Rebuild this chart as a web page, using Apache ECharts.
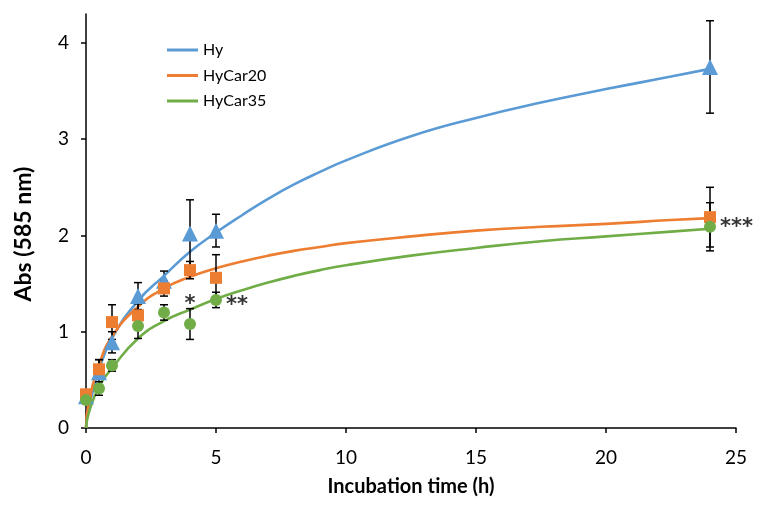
<!DOCTYPE html>
<html>
<head>
<meta charset="utf-8">
<script src="https://cdn.jsdelivr.net/npm/echarts@6/dist/echarts.min.js"></script>
<style>html,body{margin:0;padding:0;background:#fff}#c{width:764px;height:508px}</style>
</head>
<body>
<div id="c"></div>
<script>
// measured points
const timePts = [0, 0.5, 1, 2, 3, 4, 5, 24];
const hyMean = [0.33, 0.58, 0.89, 1.37, 1.53, 2.02, 2.05, 3.75];
const hyErr = [0.03, 0.13, 0.11, 0.14, 0.10, 0.35, 0.17, 0.48];
const car20Mean = [0.35, 0.61, 1.10, 1.17, 1.45, 1.64, 1.56, 2.19];
const car20Err = [0.03, 0.10, 0.18, 0.12, 0.08, 0.09, 0.24, 0.31];
const car35Mean = [0.29, 0.41, 0.65, 1.06, 1.20, 1.08, 1.33, 2.09];
const car35Err = [0.02, 0.07, 0.06, 0.13, 0.08, 0.16, 0.08, 0.25];

// fitted trend curves
const fitX = [0, 0.1, 0.5, 1, 2, 3, 4, 5, 6, 7, 8, 9, 10, 12.5, 15, 17.5, 20, 22.5, 24];
const hyFit = [0, 0.2, 0.6, 0.93, 1.32, 1.58, 1.83, 2.03, 2.21, 2.38, 2.53, 2.66, 2.78, 3.03, 3.22, 3.38, 3.52, 3.65, 3.73];
const car20Fit = [0, 0.25, 0.65, 0.95, 1.26, 1.45, 1.57, 1.66, 1.73, 1.79, 1.84, 1.88, 1.92, 1.99, 2.05, 2.09, 2.12, 2.16, 2.18];
const car35Fit = [0, 0.15, 0.43, 0.62, 0.93, 1.11, 1.23, 1.34, 1.43, 1.51, 1.58, 1.64, 1.69, 1.79, 1.87, 1.94, 1.99, 2.04, 2.07];

// significance marks
const annX = [4, 5, 24];
const annY = [1.24, 1.33, 2.14];
const annText = ['*', '**', '***'];

const seriesNames = ['Hy', 'HyCar20', 'HyCar35'];
const xTicks = [0, 5, 10, 15, 20, 25];
const yTicks = [0, 1, 2, 3, 4];

const colors = ['#5B9BD5', '#ED7D31', '#70AD47'];
const symbols = ['triangle', 'rect', 'circle'];
const symSizes = [16, 12, 12];
const FONT = 'Lato, "Open Sans", sans-serif';

const means = [hyMean, car20Mean, car35Mean];
const errs = [hyErr, car20Err, car35Err];
const fits = [hyFit, car20Fit, car35Fit];

const series = [];
// trend lines
for (let s = 0; s < 3; s++) {
  series.push({
    name: seriesNames[s], type: 'line', smooth: 0.5, symbol: 'none',
    data: fitX.map((x, i) => [x, fits[s][i]]),
    lineStyle: { color: colors[s], width: 2.6 }, itemStyle: { color: colors[s] },
    z: 2, silent: true
  });
}
// error bars
for (let s = 0; s < 3; s++) {
  series.push({
    name: seriesNames[s] + ' err', type: 'custom', z: 3, silent: true,
    data: timePts.map((x, i) => [x, means[s][i], errs[s][i]]),
    renderItem: function (params, api) {
      const x = api.value(0), y = api.value(1), e = api.value(2);
      const top = api.coord([x, y + e]);
      const bot = api.coord([x, y - e]);
      const hw = 4;
      const st = { stroke: '#000', lineWidth: 1.5 };
      return { type: 'group', children: [
        { type: 'line', shape: { x1: top[0], y1: top[1], x2: bot[0], y2: bot[1] }, style: st },
        { type: 'line', shape: { x1: top[0] - hw, y1: top[1], x2: top[0] + hw, y2: top[1] }, style: st },
        { type: 'line', shape: { x1: bot[0] - hw, y1: bot[1], x2: bot[0] + hw, y2: bot[1] }, style: st }
      ]};
    }
  });
}
// markers
for (let s = 0; s < 3; s++) {
  series.push({
    name: seriesNames[s] + ' pts', type: 'scatter', z: 4 + s, silent: true,
    symbol: symbols[s], symbolSize: symSizes[s],
    data: timePts.map((x, i) => [x, means[s][i]]),
    itemStyle: { color: colors[s], opacity: 1 }
  });
}
// annotations
series.push({
  name: 'sig', type: 'scatter', symbolSize: 0, z: 10, silent: true,
  data: annX.map((x, i) => ({
    value: [x, annY[i]],
    label: {
      show: true, formatter: annText[i],
      position: i === 0 ? 'top' : 'right',
      distance: i === 0 ? 2 : 10,
      offset: i === 0 ? [0, 8] : [0, 6]
    }
  })),
  label: { color: '#000', fontSize: 21, fontWeight: 'bold', fontFamily: '"DejaVu Sans", sans-serif' }
});

const chart = echarts.init(document.getElementById('c'), null, { renderer: 'canvas' });
chart.setOption({
  animation: false,
  backgroundColor: '#fff',
  grid: { left: 86, right: 28, top: 14, bottom: 80, containLabel: false },
  legend: {
    data: seriesNames, orient: 'vertical', left: 162, top: 37,
    icon: 'rect', itemWidth: 31, itemHeight: 3, itemGap: 9.5,
    textStyle: { fontSize: 16, fontFamily: FONT, color: '#000' },
    selectedMode: false
  },
  xAxis: {
    type: 'value', min: 0, max: 25, interval: 5,
    name: 'Incubation time (h)', nameLocation: 'middle', nameGap: 49,
    nameTextStyle: { fontSize: 20, fontWeight: 'bold', fontFamily: FONT, color: '#000' },
    axisLine: { lineStyle: { color: '#000', width: 1.5 } },
    axisTick: { show: true, length: 5, lineStyle: { color: '#000', width: 1.5 }, customValues: xTicks },
    axisLabel: { fontSize: 19, fontFamily: FONT, color: '#000', margin: 20, customValues: xTicks },
    splitLine: { show: false }
  },
  yAxis: {
    type: 'value', min: 0, max: 4.3,
    name: 'Abs (585 nm)', nameLocation: 'middle', nameGap: 51,
    nameTextStyle: { fontSize: 23, fontWeight: 'bold', fontFamily: FONT, color: '#000', padding: [0, 26, 0, 0] },
    axisLine: { show: true, lineStyle: { color: '#000', width: 1.5 } },
    axisTick: { show: true, length: 5, lineStyle: { color: '#000', width: 1.5 }, customValues: yTicks },
    axisLabel: { fontSize: 19, fontFamily: FONT, color: '#000', margin: 17, customValues: yTicks },
    splitLine: { show: false }
  },
  series: series
});
</script>
</body>
</html>
